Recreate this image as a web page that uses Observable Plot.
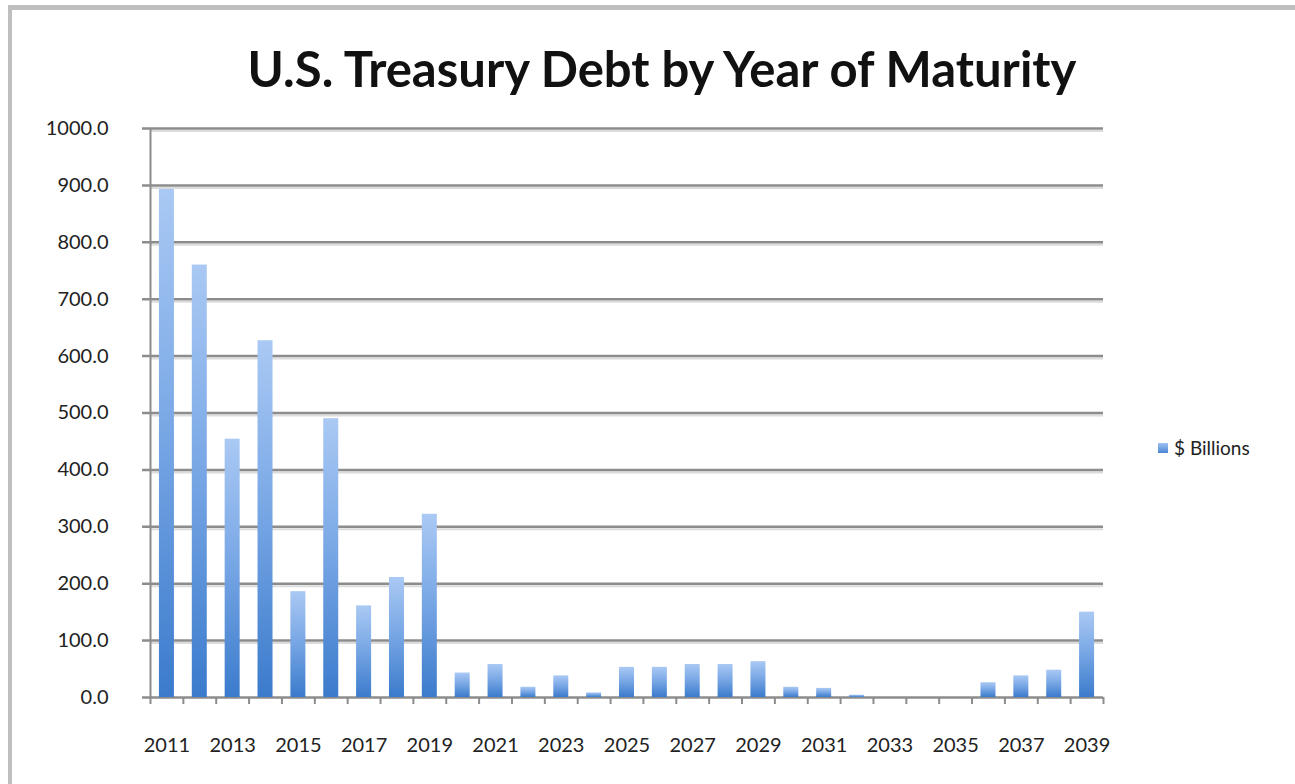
<!DOCTYPE html>
<html>
<head>
<meta charset="utf-8">
<script src="https://cdn.jsdelivr.net/npm/d3@7"></script>
<script src="https://cdn.jsdelivr.net/npm/@observablehq/plot@0.6"></script>
<style>
  html, body { margin: 0; padding: 0; background: #fff; }
  #page { position: relative; width: 1295px; height: 784px; overflow: hidden; background: #fff; }
  #frame { position: absolute; left: 8px; top: 5px; width: 1300px; height: 790px;
           border-top: 5px solid #bfbfbf; border-left: 4px solid #bfbfbf; box-sizing: border-box; }
  #title { position: absolute; left: 0; top: 38px; width: 1324px; text-align: center;
           font-family: Lato, "Open Sans", sans-serif; font-weight: bold; font-size: 49px; color: #111;
           line-height: 60px; }
  #chart { position: absolute; left: 0; top: 110px; }
  #legend { position: absolute; left: 1158px; top: 436px; font-family: Lato, sans-serif; font-size: 19px; color: #222;
            display: flex; align-items: center; }
  #legend .sw { width: 10px; height: 10px; margin-right: 6px;
                background: linear-gradient(#9fc2f2, #4a86d4); }
</style>
</head>
<body>
<div id="page">
  <div id="frame"></div>
  <div id="title">U.S. Treasury Debt by Year of Maturity</div>
  <div id="chart"></div>
  <div id="legend"><span class="sw"></span><span>$ Billions</span></div>
</div>
<script>
const years = [2011, 2012, 2013, 2014, 2015, 2016, 2017, 2018, 2019, 2020,
               2021, 2022, 2023, 2024, 2025, 2026, 2027, 2028, 2029, 2030,
               2031, 2032, 2033, 2034, 2035, 2036, 2037, 2038, 2039];
const billions = [893, 760, 454, 627, 186, 490, 161, 211, 322, 43,
                  58, 18, 38, 8, 53, 53, 58, 58, 63, 18,
                  16, 4, 0, 0, 0, 26, 38, 48, 150];
const yTicks = [0, 100, 200, 300, 400, 500, 600, 700, 800, 900, 1000];
const xLabels = [2011, 2013, 2015, 2017, 2019, 2021, 2023, 2025, 2027, 2029, 2031, 2033, 2035, 2037, 2039];
const seriesName = "$ Billions";

const data = years.map((y, i) => ({year: y, value: billions[i]}));

const W = 1295, H = 674;
const mL = 150, mR = 192, mT = 18, mB = 87;
const bw = (W - mL - mR) / years.length;
const inset = (bw - 15) / 2;

const chart = Plot.plot({
  width: W,
  height: H,
  marginLeft: mL, marginRight: mR, marginTop: mT, marginBottom: mB,
  style: {fontFamily: "Lato, sans-serif", fontSize: "20px", color: "#222", background: "transparent"},
  x: {type: "band", domain: years, padding: 0, round: false, label: null},
  y: {domain: [0, 1000], label: null},
  marks: [
    // gridline shadows
    Plot.ruleY(yTicks.filter(d => d > 0), {y: d => d, dy: 2.5, stroke: "#dcdcdc", strokeWidth: 2}),
    // gridlines (extending left as ticks)
    Plot.ruleY(yTicks, {y: d => d, stroke: "#8c8c8c", strokeWidth: 2.5, insetLeft: -8}),
    // y axis line
    Plot.ruleX([years[0]], {x: d => d, dx: -bw / 2, y1: 0, y2: 1000, stroke: "#8c8c8c", strokeWidth: 2}),
    // x tick marks at band boundaries
    Plot.ruleX(years, {x: d => d, dx: -bw / 2, y1: 0, y2: 0, insetBottom: -7, stroke: "#8c8c8c", strokeWidth: 2}),
    Plot.ruleX([years[years.length - 1]], {x: d => d, dx: bw / 2, y1: 0, y2: 0, insetBottom: -7, stroke: "#8c8c8c", strokeWidth: 2}),
    // bars
    Plot.barY(data, {x: "year", y: "value", fill: "url(#barGrad)", insetLeft: inset, insetRight: inset}),
    // axes
    Plot.axisY({ticks: yTicks, tickFormat: d3.format(".1f"), tickSize: 0, tickPadding: 42, fill: "#222", label: null}),
    Plot.axisX({ticks: xLabels, tickFormat: d => String(d), tickSize: 0, tickPadding: 40, fill: "#222", label: null})
  ]
});

const ns = "http://www.w3.org/2000/svg";
const defs = document.createElementNS(ns, "defs");
const grad = document.createElementNS(ns, "linearGradient");
grad.setAttribute("id", "barGrad");
grad.setAttribute("x1", "0"); grad.setAttribute("y1", "0");
grad.setAttribute("x2", "0"); grad.setAttribute("y2", "1");
[["0%", "#aac9f4"], ["45%", "#7ba9e6"], ["100%", "#3b7bcc"]].forEach(([o, c]) => {
  const s = document.createElementNS(ns, "stop");
  s.setAttribute("offset", o); s.setAttribute("stop-color", c);
  grad.appendChild(s);
});
defs.appendChild(grad);
chart.insertBefore(defs, chart.firstChild);

document.getElementById("chart").appendChild(chart);
</script>
</body>
</html>
